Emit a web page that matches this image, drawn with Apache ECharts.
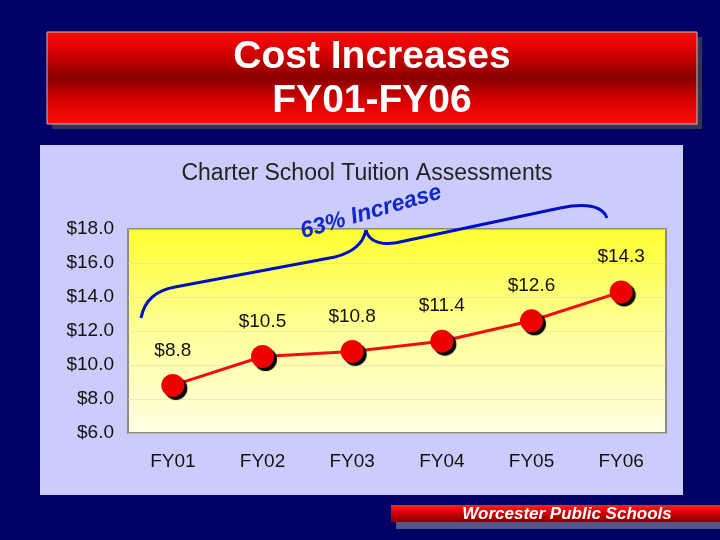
<!DOCTYPE html>
<html><head><meta charset="utf-8">
<script src="https://cdn.jsdelivr.net/npm/echarts@6/dist/echarts.min.js"></script>
<style>html,body{margin:0;padding:0;background:#000066;}#c{width:720px;height:540px;}</style>
</head><body><div id="c"></div>
<script>
const categories = ['FY01','FY02','FY03','FY04','FY05','FY06'];
const values = [8.8, 10.5, 10.8, 11.4, 12.6, 14.3];
const yTicks = {min: 6, max: 18, interval: 2};
const headline = ['Cost Increases', 'FY01-FY06'];
const chartTitle = 'Charter School Tuition Assessments';
const annotation = '63% Increase';
const footer = 'Worcester Public Schools';

const FF = '"Liberation Sans", Arial, sans-serif';
const braceStyle = {fill: 'none', stroke: '#0010c0', lineWidth: 3};
const chart = echarts.init(document.getElementById('c'));
chart.setOption({
  backgroundColor: '#000066',
  animation: false,
  title: [{
    text: chartTitle, left: 362, top: 157, textAlign: 'center',
    textStyle: {fontFamily: FF, fontSize: 23, fontWeight: 'normal', color: '#222'}
  }],
  graphic: [
    {type: 'rect', z: -10, shape: {x: 52, y: 37, width: 650, height: 92}, style: {fill: '#333355'}},
    {type: 'rect', z: -9, shape: {x: 47, y: 32, width: 650, height: 92},
      style: {fill: new echarts.graphic.LinearGradient(0,0,0,1,[
        {offset:0, color:'#ff0a0a'},{offset:0.25,color:'#d00000'},{offset:0.5,color:'#8a0000'},
        {offset:0.75,color:'#d80000'},{offset:1,color:'#ff0a0a'}]), stroke: '#c0c0c0', lineWidth: 1}},
    {type: 'text', z: 10, style: {text: headline[0], x: 372, y: 57, align: 'center', verticalAlign: 'middle',
      fontFamily: FF, fontWeight: 'bold', fontSize: 39, fill: '#fff', textShadowColor: '#444', textShadowOffsetX: 2, textShadowOffsetY: 2}},
    {type: 'text', z: 10, style: {text: headline[1], x: 372, y: 101, align: 'center', verticalAlign: 'middle',
      fontFamily: FF, fontWeight: 'bold', fontSize: 39, fill: '#fff', textShadowColor: '#444', textShadowOffsetX: 2, textShadowOffsetY: 2}},
    {type: 'rect', z: -10, shape: {x: 40, y: 145, width: 643, height: 350}, style: {fill: '#ccccfc'}},
    {type: 'bezierCurve', z: 20, shape: {x1: 141, y1: 318, cpx1: 146, cpy1: 292, x2: 175, y2: 287}, style: braceStyle},
    {type: 'line', z: 20, shape: {x1: 175, y1: 287, x2: 335, y2: 257}, style: braceStyle},
    {type: 'bezierCurve', z: 20, shape: {x1: 335, y1: 257, cpx1: 362, cpy1: 250, x2: 366, y2: 230}, style: braceStyle},
    {type: 'bezierCurve', z: 20, shape: {x1: 366, y1: 230, cpx1: 370, cpy1: 246, x2: 395, y2: 243}, style: braceStyle},
    {type: 'line', z: 20, shape: {x1: 395, y1: 243, x2: 560, y2: 208}, style: braceStyle},
    {type: 'bezierCurve', z: 20, shape: {x1: 560, y1: 208, cpx1: 600, cpy1: 200, x2: 607, y2: 218}, style: braceStyle},
    {type: 'text', z: 20, x: 371, y: 212, rotation: 0.28, style: {text: annotation, x: 0, y: 0, align: 'center', verticalAlign: 'middle',
      fontFamily: FF, fontStyle: 'italic', fontWeight: 'bold', fontSize: 23, fill: '#1428c8'}},
    {type: 'rect', z: -5, shape: {x: 396, y: 521, width: 324, height: 8}, style: {fill: '#55558a'}},
    {type: 'rect', z: -4, shape: {x: 391, y: 505, width: 329, height: 17},
      style: {fill: new echarts.graphic.LinearGradient(0,0,0,1,[
        {offset:0,color:'#ff2020'},{offset:0.5,color:'#d00000'},{offset:1,color:'#800000'}])}},
    {type: 'text', z: 10, style: {text: footer, x: 567, y: 514, align: 'center', verticalAlign: 'middle',
      fontFamily: FF, fontStyle: 'italic', fontWeight: 'bold', fontSize: 17, fill: '#fff'}}
  ],
  grid: {left: 128, right: 54, top: 229, bottom: 107, show: true,
    backgroundColor: new echarts.graphic.LinearGradient(0,0,0,1,[
      {offset:0,color:'#ffff30'},{offset:0.5,color:'#ffff99'},{offset:1,color:'#ffffe4'}]),
    borderColor: '#8a8a8a', borderWidth: 2},
  xAxis: {type: 'category', data: categories, boundaryGap: true,
    axisLine: {show: false}, axisTick: {show: false},
    axisLabel: {margin: 19, fontFamily: FF, fontSize: 19, color: '#111'}},
  yAxis: {type: 'value', min: yTicks.min, max: yTicks.max, interval: yTicks.interval,
    axisLine: {show: false}, axisTick: {show: false},
    splitLine: {lineStyle: {color: 'rgba(220,220,180,0.6)', width: 1}},
    axisLabel: {margin: 14, fontFamily: FF, fontSize: 19, color: '#111',
      formatter: v => '$' + v.toFixed(1)}},
  series: [{
    type: 'line', data: values, symbol: 'circle', symbolSize: 23,
    lineStyle: {color: '#ee1010', width: 3},
    itemStyle: {color: '#ee0000', shadowColor: '#000', shadowOffsetX: 3, shadowOffsetY: 3, shadowBlur: 1},
    label: {show: true, position: 'top', distance: 14, fontFamily: FF, fontSize: 19, color: '#111',
      formatter: p => '$' + p.value.toFixed(1)}
  }]
});
</script></body></html>
